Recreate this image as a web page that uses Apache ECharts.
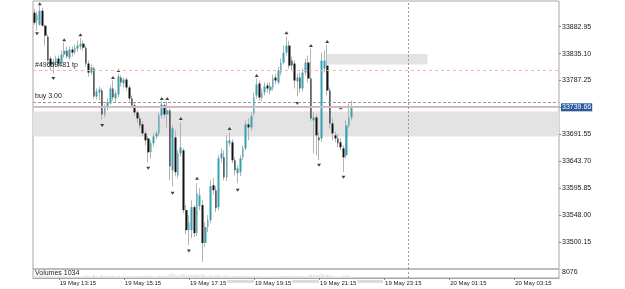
<!DOCTYPE html>
<html>
<head>
<meta charset="utf-8">
<script src="https://cdn.jsdelivr.net/npm/echarts@6/dist/echarts.min.js"></script>
<style>
  html, body { margin: 0; padding: 0; background: #fff; }
  #chart { width: 625px; height: 289px; }
</style>
</head>
<body>
<div id="chart"></div>
<script>
// price axis is drawn as an offset from BASE so the ticks land on the terminal's levels
const BASE = 33452.30
const STEP = 47.85
const FONT = 'Liberation Sans, Arial, sans-serif'

// 5 minute slots, 19 May 12:30 -> 20 May 04:35
const SLOT_COUNT = 194
const categories = []
for (let i = 0; i < SLOT_COUNT; i++) {
  const t = 12 * 60 + 30 + i * 5
  const day = 19 + Math.floor(t / 1440)
  const m = t % 1440
  categories.push(day + ' May ' + String(Math.floor(m / 60)).padStart(2, '0') + ':' + String(m % 60).padStart(2, '0'))
}

const tickLabels = ['19 May 13:15', '19 May 15:15', '19 May 17:15', '19 May 19:15',
  '19 May 21:15', '19 May 23:15', '20 May 01:15', '20 May 03:15']
const daySeparator = '20 May 00:00'

const opens = [33907.8, 33893.6, 33886.5, 33911.3, 33884.7, 33865.2, 33826.2, 33813.8, 33819.2, 33826.2,
  33819.2, 33833.3, 33840.4, 33828.0, 33842.2, 33838.6, 33843.9, 33847.5, 33852.8, 33845.7,
  33817.4, 33801.4, 33808.5, 33758.9, 33766.0, 33769.5, 33727.0, 33739.4, 33746.5, 33773.1,
  33755.4, 33762.5, 33792.6, 33782.0, 33789.0, 33774.9, 33755.4, 33743.0, 33730.6, 33719.9,
  33709.3, 33693.3, 33684.4, 33659.7, 33675.6, 33688.0, 33693.3, 33725.2, 33743.0, 33727.0,
  33734.1, 33627.8, 33686.2, 33618.9, 33657.9, 33663.2, 33556.9, 33521.4, 33521.4, 33562.2,
  33516.1, 33564.0, 33565.8, 33498.4, 33526.8, 33539.2, 33601.2, 33592.4, 33562.2, 33649.0,
  33650.8, 33615.4, 33675.6, 33677.4, 33645.5, 33622.5, 33624.3, 33650.8, 33666.7, 33709.3,
  33704.0, 33728.8, 33760.7, 33782.0, 33757.1, 33766.0, 33778.4, 33769.5, 33774.9, 33792.6,
  33783.7, 33801.4, 33819.2, 33836.9, 33849.3, 33822.7, 33817.4, 33785.5, 33792.6, 33773.1,
  33801.4, 33819.2, 33790.8, 33716.4, 33721.7, 33686.2, 33684.4, 33808.5, 33813.8, 33769.5,
  33711.0, 33689.8, 33684.4, 33677.4, 33666.7, 33654.3, 33707.5, 33721.7]

const closes = [33890.0, 33904.2, 33911.3, 33884.7, 33867.0, 33822.7, 33813.8, 33820.9, 33826.2, 33817.4,
  33833.3, 33840.4, 33829.8, 33842.2, 33836.9, 33845.7, 33849.3, 33852.8, 33845.7, 33817.4,
  33801.4, 33810.3, 33758.9, 33767.8, 33771.3, 33727.0, 33739.4, 33748.3, 33773.1, 33757.1,
  33764.2, 33794.4, 33783.7, 33789.0, 33774.9, 33755.4, 33743.0, 33730.6, 33719.9, 33707.5,
  33693.3, 33680.9, 33659.7, 33675.6, 33688.0, 33693.3, 33725.2, 33744.7, 33727.0, 33734.1,
  33634.9, 33702.2, 33624.3, 33657.9, 33668.5, 33556.9, 33521.4, 33535.6, 33562.2, 33516.1,
  33587.0, 33583.5, 33498.4, 33526.8, 33539.2, 33599.5, 33592.4, 33560.4, 33649.0, 33657.9,
  33615.4, 33680.9, 33680.9, 33645.5, 33627.8, 33631.3, 33649.0, 33666.7, 33709.3, 33704.0,
  33723.5, 33757.1, 33780.2, 33757.1, 33766.0, 33776.6, 33773.1, 33776.6, 33790.8, 33787.3,
  33805.0, 33819.2, 33836.9, 33849.3, 33813.8, 33813.8, 33787.3, 33792.6, 33773.1, 33801.4,
  33819.2, 33790.8, 33719.9, 33721.7, 33689.8, 33680.9, 33822.7, 33822.7, 33769.5, 33711.0,
  33693.3, 33684.4, 33675.6, 33668.5, 33650.8, 33707.5, 33721.7, 33739.7]

const lows = [33886.5, 33875.9, 33884.7, 33883.0, 33849.3, 33819.2, 33805.0, 33799.7, 33812.1, 33810.3,
  33815.6, 33828.0, 33826.2, 33824.5, 33829.8, 33833.3, 33838.6, 33842.2, 33840.4, 33812.1,
  33794.4, 33797.9, 33755.4, 33753.6, 33751.8, 33718.1, 33721.7, 33734.1, 33744.7, 33751.8,
  33748.3, 33757.1, 33776.6, 33774.9, 33769.5, 33750.1, 33737.7, 33725.2, 33712.8, 33702.2,
  33688.0, 33672.1, 33641.9, 33649.0, 33670.3, 33682.7, 33688.0, 33719.9, 33719.9, 33704.0,
  33610.1, 33599.5, 33617.2, 33613.6, 33652.6, 33551.6, 33514.3, 33494.9, 33507.2, 33509.0,
  33510.8, 33556.9, 33464.7, 33491.3, 33517.9, 33533.8, 33585.2, 33553.3, 33556.9, 33641.9,
  33610.1, 33608.3, 33670.3, 33640.2, 33618.9, 33604.8, 33617.2, 33645.5, 33663.2, 33680.9,
  33698.6, 33723.5, 33755.4, 33751.8, 33750.1, 33760.7, 33766.0, 33762.5, 33769.5, 33780.2,
  33780.2, 33796.1, 33815.6, 33831.6, 33808.5, 33805.0, 33773.1, 33758.9, 33766.0, 33767.8,
  33796.1, 33783.7, 33714.6, 33657.9, 33654.3, 33645.5, 33677.4, 33801.4, 33760.7, 33702.2,
  33680.9, 33677.4, 33668.5, 33663.2, 33624.3, 33649.0, 33702.2, 33716.4]

const highs = [33914.9, 33909.5, 33920.2, 33916.6, 33886.5, 33868.8, 33829.8, 33826.2, 33831.6, 33831.6,
  33840.4, 33854.6, 33847.5, 33847.5, 33847.5, 33851.0, 33858.1, 33863.4, 33858.1, 33849.3,
  33822.7, 33815.6, 33812.1, 33773.1, 33776.6, 33773.1, 33744.7, 33755.4, 33778.4, 33787.3,
  33769.5, 33799.7, 33796.1, 33792.6, 33792.6, 33778.4, 33760.7, 33748.3, 33734.1, 33725.2,
  33714.6, 33698.6, 33688.0, 33680.9, 33693.3, 33698.6, 33730.6, 33750.1, 33746.5, 33750.1,
  33737.7, 33707.5, 33698.6, 33663.2, 33712.8, 33666.7, 33565.8, 33548.0, 33574.6, 33565.8,
  33604.8, 33595.9, 33574.6, 33535.6, 33548.0, 33610.1, 33613.6, 33599.5, 33654.3, 33666.7,
  33663.2, 33689.8, 33695.1, 33682.7, 33650.8, 33636.6, 33654.3, 33672.1, 33716.4, 33719.9,
  33730.6, 33766.0, 33790.8, 33787.3, 33773.1, 33783.7, 33783.7, 33783.7, 33797.9, 33799.7,
  33812.1, 33826.2, 33849.3, 33865.2, 33858.1, 33829.8, 33822.7, 33799.7, 33801.4, 33808.5,
  33826.2, 33831.6, 33843.9, 33730.6, 33727.0, 33695.1, 33836.9, 33840.4, 33851.0, 33774.9,
  33719.9, 33696.9, 33693.3, 33684.4, 33672.1, 33716.4, 33746.5, 33751.8]

const volumes = [2100, 1850, 2600, 2300, 1900, 2800, 1700, 1500, 1300, 1400,
  1600, 1800, 1400, 1500, 1200, 1300, 1400, 1600, 1300, 2200,
  1900, 1500, 2900, 1700, 1400, 2700, 1800, 1500, 2100, 1900,
  1500, 2300, 1400, 1300, 1500, 1900, 1600, 1500, 1600, 1700,
  1800, 1900, 2400, 2000, 1600, 1300, 2100, 1900, 1600, 2000,
  3600, 3900, 3100, 2500, 2600, 3700, 2900, 2800, 2700, 2600,
  2900, 2100, 3400, 2300, 1900, 2700, 1800, 2100, 2800, 1700,
  2200, 2500, 1600, 1900, 1800, 2000, 1700, 1500, 2100, 1800,
  1600, 1900, 1800, 1700, 1400, 1300, 1200, 1300, 1500, 1300,
  1600, 1700, 1800, 1900, 2100, 1600, 1900, 1800, 1600, 1700,
  1500, 2200, 3100, 2700, 2600, 2400, 3800, 2300, 2900, 2500,
  2000, 1500, 1400, 1400, 2200, 2400, 1900, 1034]
const volumeMax = 8076

// fractal arrows: [slot, price]
const fractalUp = [[2, 33923.7], [11, 33859.9], [17, 33868.8], [29, 33792.6], [31, 33805.0],
  [47, 33755.4], [49, 33755.4], [54, 33719.9], [60, 33613.6], [72, 33702.2],
  [82, 33796.1], [93, 33872.3], [102, 33849.3], [108, 33856.4]]
const fractalDown = [[1, 33870.5], [7, 33790.8], [25, 33707.5], [42, 33631.3], [51, 33587.0],
  [57, 33484.2], [75, 33592.4], [97, 33746.5], [105, 33636.6], [114, 33615.4]]
const entryMark = [[113, 33738.9]]

const tpPrice = 33805.0
const buyPrice = 33749.0
const askPrice = 33742.2
const bidPrice = 33739.66
const zoneTop = 33732.3
const zoneBottom = 33688.0
const boxTop = 33834.6
const boxBottom = 33815.6
const boxFrom = 108
const boxTo = 145

function off(p) {
  return +(p - BASE).toFixed(2)
}

const wickData = opens.map((o, i) => [off(o), off(closes[i]), off(lows[i]), off(highs[i])])
const bodyData = opens.map((o, i) => {
  const c = closes[i]
  return [off(o), off(c), off(Math.min(o, c)), off(Math.max(o, c))]
})

const chart = echarts.init(document.getElementById('chart'), null, { renderer: 'canvas' })

const textStyle = { fontFamily: FONT, color: '#1a1a1a' }

const option = {
  animation: false,
  backgroundColor: '#fff',
  grid: [
    { left: 33, right: 66, top: 1, height: 268, show: true, borderColor: '#a6a6a6', borderWidth: 1, outerBoundsMode: 'none' },
    { left: 33, right: 66, top: 269, height: 9, show: true, borderColor: '#a6a6a6', borderWidth: 1, outerBoundsMode: 'none' }
  ],
  xAxis: [
    {
      type: 'category',
      gridIndex: 0,
      data: categories,
      boundaryGap: true,
      axisLine: { show: false },
      axisTick: { show: false },
      axisLabel: { show: false },
      splitLine: { show: false }
    },
    {
      type: 'category',
      gridIndex: 1,
      data: categories,
      boundaryGap: true,
      axisLine: { show: true, lineStyle: { color: '#a6a6a6' } },
      axisTick: {
        show: true,
        length: 2,
        alignWithLabel: true,
        interval: (idx, value) => tickLabels.includes(value),
        lineStyle: { color: '#888' }
      },
      axisLabel: {
        show: true,
        interval: (idx, value) => tickLabels.includes(value),
        align: 'left',
        margin: 2,
        fontSize: 6,
        fontFamily: FONT,
        color: '#1a1a1a',
        backgroundColor: '#fff',
        padding: [0, 1],
        hideOverlap: false
      },
      splitLine: { show: false }
    }
  ],
  yAxis: [
    {
      type: 'value',
      gridIndex: 0,
      position: 'right',
      min: 0,
      max: 476.3,
      interval: STEP,
      axisLine: { show: false },
      axisTick: { show: true, length: 2, lineStyle: { color: '#888' } },
      axisLabel: {
        margin: 3,
        fontSize: 7,
        fontFamily: FONT,
        color: '#1a1a1a',
        showMinLabel: false,
        showMaxLabel: false,
        formatter: (v) => {
          const p = v + BASE
          if (Math.abs(p - bidPrice) < 5 || p > 33900) {
            return ''
          }
          return p.toFixed(2)
        }
      },
      splitLine: { show: false }
    },
    {
      type: 'value',
      gridIndex: 1,
      position: 'right',
      min: 0,
      max: volumeMax,
      interval: volumeMax,
      axisLine: { show: false },
      axisTick: { show: false },
      axisLabel: {
        margin: 3,
        fontSize: 7,
        fontFamily: FONT,
        color: '#1a1a1a',
        verticalAlign: 'top',
        showMinLabel: false,
        formatter: (v) => (v === volumeMax ? String(volumeMax) : '')
      },
      splitLine: { show: false }
    }
  ],
  graphic: [
    {
      type: 'rect',
      left: 200,
      top: 280,
      shape: { width: 183, height: 3 },
      style: { fill: '#dcdcdc' },
      z: 0
    },
    {
      type: 'text',
      left: 35,
      top: 270,
      style: { text: 'Volumes 1034', fontSize: 7, fontFamily: FONT, fill: '#1a1a1a' },
      z: 10
    }
  ],
  series: [
    {
      name: 'levels',
      type: 'line',
      xAxisIndex: 0,
      yAxisIndex: 0,
      data: [],
      z: 1,
      silent: true,
      markArea: {
        silent: true,
        itemStyle: { color: '#e3e3e3' },
        data: [
          [{ yAxis: off(zoneTop) }, { yAxis: off(zoneBottom) }],
          [{ xAxis: categories[boxFrom], yAxis: off(boxTop) }, { xAxis: categories[boxTo], yAxis: off(boxBottom) }]
        ]
      },
      markLine: {
        silent: true,
        symbol: 'none',
        data: [
          {
            yAxis: off(tpPrice),
            lineStyle: { color: '#f5b3b3', type: [3, 3], width: 1 },
            label: { show: true, position: 'insideStartTop', distance: [2, 2], formatter: '#49659481 tp', fontSize: 7, ...textStyle }
          },
          {
            yAxis: off(buyPrice),
            lineStyle: { color: '#9a9a9a', type: [3, 2], width: 1 },
            label: { show: true, position: 'insideStartTop', distance: [2, 2], formatter: 'buy 3.00', fontSize: 7, ...textStyle }
          },
          {
            yAxis: off(askPrice),
            lineStyle: { color: '#f0a5a5', type: 'solid', width: 1 },
            label: { show: false }
          },
          {
            yAxis: off(bidPrice),
            lineStyle: { color: '#b3d0e3', type: 'solid', width: 1 },
            label: {
              show: true,
              position: 'end',
              distance: 2,
              formatter: bidPrice.toFixed(2),
              fontSize: 7,
              fontFamily: FONT,
              color: '#fff',
              backgroundColor: '#2a5a9c',
              padding: [1, 1, 0, 1]
            }
          },
          {
            xAxis: daySeparator,
            lineStyle: { color: '#9a9a9a', type: [2, 2], width: 1 },
            label: { show: false }
          }
        ]
      }
    },
    {
      name: 'wicks',
      type: 'candlestick',
      xAxisIndex: 0,
      yAxisIndex: 0,
      data: wickData,
      barWidth: 1,
      z: 2,
      silent: true,
      itemStyle: {
        color: '#b3b3b3',
        color0: '#b3b3b3',
        borderColor: '#b3b3b3',
        borderColor0: '#b3b3b3',
        borderColorDoji: '#b3b3b3',
        borderWidth: 1
      }
    },
    {
      name: 'bodies',
      type: 'candlestick',
      xAxisIndex: 0,
      yAxisIndex: 0,
      data: bodyData,
      barWidth: 2.2,
      z: 3,
      silent: true,
      itemStyle: {
        color: '#39a0b3',
        color0: '#111111',
        borderColor: '#39a0b3',
        borderColor0: '#111111',
        borderColorDoji: '#111111',
        borderWidth: 0
      }
    },
    {
      name: 'fractal up',
      type: 'scatter',
      xAxisIndex: 0,
      yAxisIndex: 0,
      data: fractalUp.map(([i, p]) => [i, off(p)]),
      symbol: 'triangle',
      symbolSize: [4, 3],
      itemStyle: { color: '#111' },
      z: 4,
      silent: true
    },
    {
      name: 'fractal down',
      type: 'scatter',
      xAxisIndex: 0,
      yAxisIndex: 0,
      data: fractalDown.map(([i, p]) => [i, off(p)]),
      symbol: 'triangle',
      symbolRotate: 180,
      symbolSize: [4, 3],
      itemStyle: { color: '#111' },
      z: 4,
      silent: true
    },
    {
      name: 'entry',
      type: 'scatter',
      xAxisIndex: 0,
      yAxisIndex: 0,
      data: entryMark.map(([i, p]) => [i, off(p)]),
      symbol: 'rect',
      symbolSize: [3, 3],
      itemStyle: { color: '#333' },
      z: 4,
      silent: true
    },
    {
      name: 'volumes',
      type: 'bar',
      xAxisIndex: 1,
      yAxisIndex: 1,
      data: volumes,
      barWidth: 2,
      itemStyle: { color: '#e2e2e2' },
      silent: true,
      markLine: {
        silent: true,
        symbol: 'none',
        data: [
          { xAxis: daySeparator, lineStyle: { color: '#9a9a9a', type: [2, 2], width: 1 }, label: { show: false } }
        ]
      }
    }
  ]
}

chart.setOption(option)
window.addEventListener('resize', () => chart.resize())
</script>
</body>
</html>
